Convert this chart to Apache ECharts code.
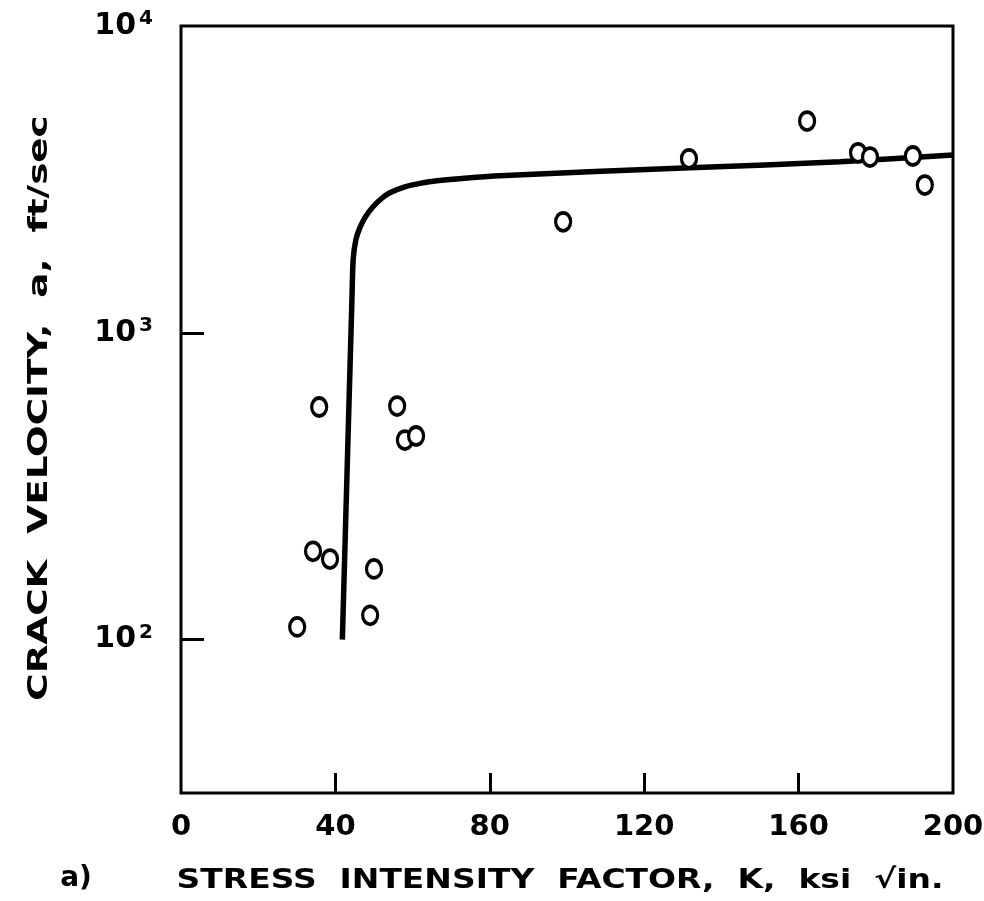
<!DOCTYPE html>
<html>
<head>
<meta charset="utf-8">
<script src="https://cdn.jsdelivr.net/npm/echarts@6/dist/echarts.min.js"></script>
<style>
  html, body { margin: 0; background: #fff; }
  #chart { width: 984px; height: 901px; }
</style>
</head>
<body>
<div id="chart"></div>
<script>
// measured points, K (ksi sqrt(in.)) vs crack velocity (ft/sec)
const kPoints = [30.1, 34.2, 38.6, 35.8, 50.0, 49.0, 56.0, 58.0, 60.9, 99.0, 131.6, 162.2, 175.4, 178.5, 189.6, 192.7]
const vPoints = [110, 194, 183, 573, 170, 120, 577, 447, 461, 2300, 3690, 4900, 3860, 3740, 3770, 3030]

// hand drawn trend curve
const kCurve = [41.8, 44.3, 44.6, 45.3, 46.4, 47.9, 49.7, 51.8, 54.1, 58.0, 61.9, 66.3, 82.6, 131.9, 170.7, 200]
const vCurve = [100, 1310, 1730, 2010, 2210, 2400, 2570, 2730, 2860, 2990, 3070, 3130, 3250, 3450, 3610, 3800]

const xTicks = [0, 40, 80, 120, 160, 200]
const yTicks = [100, 1000, 10000]

const font = 'DejaVu Sans'
const chart = echarts.init(document.getElementById('chart'))

function pairs(xs, ys) {
  return xs.map((x, i) => [x, ys[i]])
}

chart.setOption({
  backgroundColor: '#fff',
  animation: false,
  grid: {
    left: 181, top: 26, width: 772, height: 767,
    show: true, borderColor: '#000', borderWidth: 3,
    outerBoundsMode: 'none'
  },
  xAxis: {
    type: 'value',
    min: xTicks[0],
    max: xTicks[xTicks.length - 1],
    interval: xTicks[1] - xTicks[0],
    axisLine: { show: false },
    // no ticks on the frame corners
    axisTick: {
      inside: true, length: 20, lineStyle: { color: '#000', width: 3 },
      customValues: xTicks.slice(1, -1)
    },
    splitLine: { show: false },
    axisLabel: { color: '#000', fontFamily: font, fontWeight: 'bold', fontSize: 29, margin: 20 }
  },
  yAxis: {
    type: 'log',
    logBase: 10,
    min: Math.pow(10, 1.5),
    max: yTicks[yTicks.length - 1],
    axisLine: { show: false },
    axisTick: {
      inside: true, length: 23, lineStyle: { color: '#000', width: 3 },
      customValues: yTicks.slice(0, -1)
    },
    minorTick: { show: false },
    splitLine: { show: false },
    axisLabel: {
      margin: 28,
      formatter: function (v) {
        const hit = yTicks.find(t => Math.abs(t - v) / t < 1e-6)
        if (!hit) return ''
        return '{b|10}{s|' + Math.round(Math.log10(hit)) + '}'
      },
      rich: {
        b: { color: '#000', fontFamily: font, fontWeight: 'bold', fontSize: 30, lineHeight: 34 },
        s: { color: '#000', fontFamily: font, fontWeight: 'bold', fontSize: 20, lineHeight: 34, padding: [0, 0, 14, 3] }
      }
    }
  },
  // axis titles drawn as stretched text to follow the wide lettering of the original
  graphic: [
    {
      type: 'text',
      x: 560, y: 881,
      scaleX: 1.22,
      style: {
        text: 'STRESS  INTENSITY  FACTOR,  K,  ksi  √in.',
        fill: '#000', font: 'bold 27px "DejaVu Sans"',
        align: 'center', verticalAlign: 'middle'
      }
    },
    {
      type: 'text',
      x: 40, y: 408,
      rotation: Math.PI / 2,
      scaleX: 1.38,
      style: {
        text: 'CRACK  VELOCITY,  a,  ft/sec',
        fill: '#000', font: 'bold 27px "DejaVu Sans"',
        align: 'center', verticalAlign: 'middle'
      }
    },
    {
      type: 'text',
      x: 76, y: 879,
      style: {
        text: 'a)', fill: '#000', font: 'bold 28px "DejaVu Sans"',
        align: 'center', verticalAlign: 'middle'
      }
    }
  ],
  series: [
    {
      type: 'line',
      data: pairs(kCurve, vCurve),
      smooth: 0.25,
      symbol: 'none',
      lineStyle: { color: '#000', width: 5.5 },
      z: 2
    },
    {
      type: 'scatter',
      data: pairs(kPoints, vPoints),
      symbol: 'circle',
      symbolSize: [15, 18],
      itemStyle: { color: '#fff', borderColor: '#000', borderWidth: 3.5, opacity: 1 },
      z: 3
    }
  ]
})
</script>
</body>
</html>
